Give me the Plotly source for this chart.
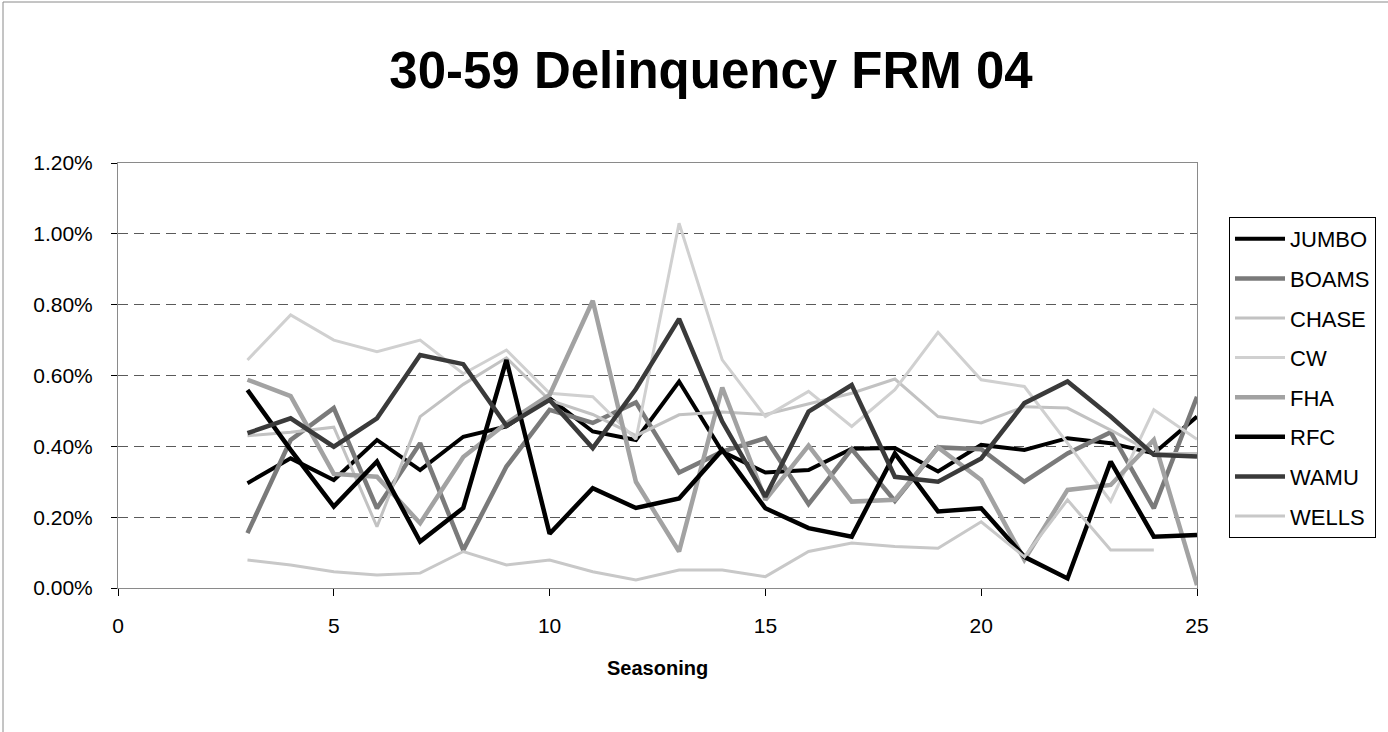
import plotly.graph_objects as go

seasoning = list(range(3, 26))

jumbo = [0.296, 0.366, 0.305, 0.418, 0.333, 0.427, 0.456, 0.536, 0.442, 0.418, 0.583, 0.385,
         0.326, 0.333, 0.393, 0.395, 0.329, 0.404, 0.390, 0.423, 0.409, 0.380, 0.484]
boams = [0.155, 0.418, 0.508, 0.225, 0.409, 0.107, 0.343, 0.503, 0.466, 0.524, 0.326, 0.385,
         0.423, 0.237, 0.392, 0.246, 0.397, 0.392, 0.300, 0.380, 0.440, 0.225, 0.540]
chase = [0.430, 0.440, 0.454, 0.173, 0.484, 0.575, 0.650, 0.530, 0.490, 0.430, 0.489, 0.497,
         0.490, 0.520, 0.550, 0.590, 0.484, 0.466, 0.512, 0.508, 0.446, 0.380, 0.380]
cw = [0.644, 0.771, 0.700, 0.667, 0.700, 0.605, 0.672, 0.550, 0.540, 0.420, 1.030, 0.644,
      0.484, 0.555, 0.456, 0.560, 0.722, 0.588, 0.569, 0.409, 0.245, 0.503, 0.420]
fha = [0.588, 0.542, 0.322, 0.314, 0.183, 0.370, 0.465, 0.545, 0.811, 0.300, 0.103, 0.566,
       0.249, 0.402, 0.244, 0.249, 0.397, 0.305, 0.080, 0.277, 0.291, 0.418, 0.008]
rfc = [0.559, 0.390, 0.230, 0.357, 0.131, 0.226, 0.644, 0.153, 0.282, 0.226, 0.253, 0.390,
       0.225, 0.169, 0.145, 0.380, 0.216, 0.225, 0.088, 0.027, 0.357, 0.145, 0.150]
wamu = [0.437, 0.479, 0.399, 0.479, 0.658, 0.632, 0.458, 0.531, 0.395, 0.562, 0.760, 0.470,
        0.258, 0.498, 0.573, 0.314, 0.300, 0.366, 0.522, 0.583, 0.484, 0.376, 0.371]
wells = [0.079, 0.065, 0.046, 0.037, 0.042, 0.103, 0.065, 0.079, 0.046, 0.023, 0.051, 0.051,
         0.032, 0.103, 0.127, 0.117, 0.112, 0.187, 0.088, 0.249, 0.107, 0.107, None]

series_names = ["JUMBO", "BOAMS", "CHASE", "CW", "FHA", "RFC", "WAMU", "WELLS"]
series_values = [jumbo, boams, chase, cw, fha, rfc, wamu, wells]
series_colors = ["#000000", "#7a7a7a", "#c2c2c2", "#d0d0d0", "#a2a2a2", "#000000", "#3a3a3a", "#c8c8c8"]
series_widths = [4, 4.5, 3, 3, 4.5, 4.5, 4.5, 3]

x_tick_vals = [0, 5, 10, 15, 20, 25]
y_tick_vals = [0.0, 0.002, 0.004, 0.006, 0.008, 0.010, 0.012]

fig = go.Figure()
for name, vals, col, w in zip(series_names, series_values, series_colors, series_widths):
    fig.add_trace(go.Scatter(
        x=seasoning,
        y=[None if v is None else v / 100 for v in vals],
        mode="lines",
        name=name,
        legendgroup=name,
        line=dict(color=col, width=w),
    ))

L, R, T, B = 118, 191, 163, 144
W, H = 1388, 732
pw = W - L - R
ph = H - T - B

fig.update_layout(
    width=W, height=H,
    margin=dict(l=L, r=R, t=T, b=B, pad=0),
    paper_bgcolor="white",
    plot_bgcolor="white",
    font=dict(family="Liberation Sans, Arial, sans-serif", color="black", size=21),
    title=dict(
        text="<b>30-59 Delinquency FRM 04</b>",
        x=711 / W, xanchor="center",
        y=1 - 70 / H, yanchor="middle",
        font=dict(size=51, family="Liberation Sans, Arial, sans-serif", color="black"),
    ),
    showlegend=True,
    legend=dict(
        x=(1229 - L) / pw, xanchor="left",
        y=(T + ph - 217) / ph, yanchor="top",
        bordercolor="#000000", borderwidth=1,
        bgcolor="white",
        font=dict(size=22, color="black"),
        tracegroupgap=8,
        itemwidth=50,
    ),
    xaxis=dict(
        range=[0, 25],
        tickvals=x_tick_vals,
        ticks="outside", ticklen=7, tickcolor="#000000",
        showline=True, linecolor="#8a8a8a", linewidth=1, mirror=True,
        showgrid=False, zeroline=False,
        ticklabelstandoff=12,
        tickfont=dict(size=21),
    ),
    yaxis=dict(
        range=[0, 0.012],
        tickvals=y_tick_vals,
        tickformat=".2%",
        ticks="outside", ticklen=6, tickcolor="#000000",
        showline=True, linecolor="#8a8a8a", linewidth=1, mirror=True,
        showgrid=True, gridcolor="#5a5a5a", gridwidth=1, griddash="10px,6px",
        zeroline=False,
        ticklabelstandoff=14,
        tickfont=dict(size=21),
    ),
    annotations=[dict(
        text="<b>Seasoning</b>",
        x=0.5, xref="paper", y=(T + ph - 668) / ph, yref="paper",
        xanchor="center", yanchor="middle", showarrow=False,
        font=dict(size=20, color="black"),
    )],
    shapes=[
        dict(type="line", xref="paper", yref="paper",
             x0=(3 - L) / pw, x1=(W - L) / pw, y0=(T + ph - 2) / ph, y1=(T + ph - 2) / ph,
             line=dict(color="#8a8a8a", width=1)),
        dict(type="line", xref="paper", yref="paper",
             x0=(3 - L) / pw, x1=(3 - L) / pw, y0=(T + ph - 2) / ph, y1=(T + ph - H) / ph,
             line=dict(color="#8a8a8a", width=1)),
    ],
)

fig.write_html(
    "out.html",
    config={"displayModeBar": False},
    post_script="document.body.style.margin='0';document.body.style.overflow='hidden';",
)
